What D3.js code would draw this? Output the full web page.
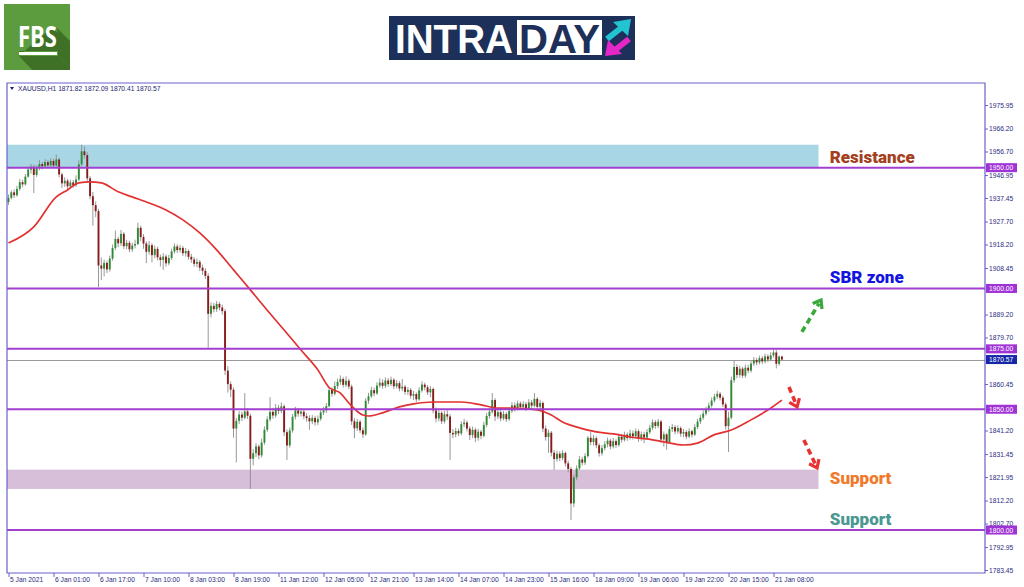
<!DOCTYPE html>
<html>
<head>
<meta charset="utf-8">
<script src="https://cdn.jsdelivr.net/npm/d3@7"></script>
<style>
  body { margin: 0; background: #fff; }
  svg { display: block; }
</style>
</head>
<body>
<div id="chart"></div>
<script>
// XAUUSD H1 candles (open = previous close)
const firstOpen = 1935.8;
const closes = [
  1937.5,1939.8,1938.6,1941.2,1944.0,1943.1,1946.3,1949.2,1950.4,1947.0,
  1949.8,1951.5,1950.6,1952.3,1951.0,1952.8,1950.9,1953.4,1947.2,1943.5,
  1944.6,1942.3,1943.9,1942.8,1945.1,1951.4,1956.8,1955.2,1945.6,1938.2,
  1934.5,1932.0,1909.5,1908.2,1910.6,1907.9,1912.4,1916.8,1920.5,1918.7,
  1922.6,1917.5,1918.9,1916.2,1917.8,1918.4,1925.1,1921.3,1918.6,1915.2,
  1917.9,1913.8,1916.4,1912.9,1911.8,1913.2,1910.4,1912.6,1915.3,1917.4,
  1915.9,1916.8,1914.6,1915.5,1913.1,1912.0,1910.2,1911.0,1908.6,1907.3,
  1905.2,1889.5,1892.8,1891.4,1893.6,1892.1,1890.6,1866.0,1860.4,1858.1,
  1842.0,1845.2,1847.8,1846.5,1849.1,1847.3,1829.5,1831.8,1834.6,1830.9,
  1836.2,1841.5,1845.8,1848.9,1847.4,1850.6,1849.3,1851.2,1840.5,1835.0,
  1841.2,1846.9,1849.5,1848.2,1849.0,1847.1,1846.3,1845.0,1846.4,1844.6,
  1846.0,1848.7,1849.5,1851.3,1857.9,1856.4,1859.6,1861.3,1862.5,1860.1,
  1861.8,1859.4,1845.0,1842.1,1844.8,1841.3,1839.6,1853.5,1855.4,1857.9,
  1856.6,1859.8,1861.0,1859.7,1861.9,1860.4,1862.2,1859.5,1860.8,1858.6,
  1859.3,1857.2,1858.0,1855.6,1856.3,1854.1,1857.8,1860.2,1859.1,1857.0,
  1858.4,1849.5,1846.2,1848.5,1845.0,1847.9,1847.0,1840.2,1839.6,1841.0,
  1840.0,1843.8,1844.5,1842.0,1839.3,1841.5,1838.2,1840.7,1839.0,1843.5,
  1847.2,1849.0,1853.8,1847.0,1848.8,1846.2,1848.0,1845.9,1849.3,1851.6,
  1850.2,1852.4,1850.9,1852.1,1850.5,1852.8,1851.5,1854.3,1851.0,1852.6,
  1842.0,1838.5,1840.3,1832.0,1829.4,1831.6,1829.8,1831.9,1827.6,1825.3,
  1811.0,1821.8,1825.5,1829.2,1827.9,1830.6,1838.2,1836.4,1838.0,1835.1,
  1831.8,1833.9,1835.5,1837.0,1834.6,1836.8,1835.2,1838.6,1837.4,1839.5,
  1838.1,1840.0,1838.8,1840.9,1837.7,1839.6,1838.3,1840.5,1842.3,1844.6,
  1843.1,1844.9,1837.5,1839.6,1836.4,1841.8,1842.6,1840.8,1842.2,1839.9,
  1840.6,1838.7,1840.9,1839.5,1842.6,1844.9,1846.5,1848.2,1849.7,1851.5,
  1853.6,1855.2,1856.4,1854.8,1852.0,1843.0,1846.5,1862.0,1867.5,1864.2,
  1866.8,1863.9,1867.2,1866.0,1868.9,1870.3,1869.4,1871.1,1869.8,1871.9,
  1870.6,1872.3,1873.5,1868.8,1871.8,1870.57
];
const highs = [
  1938.9,1940.6,1941.0,1942.5,1945.3,1945.0,1947.4,1950.5,1951.6,1951.2,
  1951.0,1953.1,1952.4,1953.5,1953.2,1953.9,1953.6,1955.5,1954.1,1948.0,
  1946.0,1945.4,1945.0,1944.9,1946.8,1953.0,1959.5,1958.9,1956.4,1946.5,
  1940.0,1936.0,1933.0,1912.8,1911.9,1911.5,1913.6,1918.2,1924.0,1921.4,
  1924.2,1923.4,1920.1,1919.8,1919.0,1920.2,1927.2,1926.0,1922.5,1919.5,
  1919.6,1918.7,1917.8,1917.3,1914.0,1914.6,1914.1,1913.9,1916.5,1918.6,
  1918.3,1918.0,1917.5,1916.8,1916.2,1914.3,1913.0,1912.4,1911.8,1909.9,
  1908.4,1906.3,1894.2,1894.0,1894.8,1894.5,1893.3,1891.5,1867.8,1861.5,
  1859.0,1846.4,1849.2,1849.0,1856.7,1850.4,1848.2,1833.5,1836.0,1835.4,
  1837.8,1842.9,1847.1,1855.0,1850.6,1852.2,1851.8,1852.8,1852.0,1841.6,
  1842.4,1848.0,1851.0,1850.6,1850.5,1849.9,1848.4,1847.5,1847.6,1847.3,
  1847.4,1849.9,1851.0,1852.6,1859.3,1859.0,1861.5,1862.7,1864.0,1863.3,
  1863.6,1862.6,1860.2,1846.3,1846.0,1845.6,1842.5,1854.6,1856.8,1859.3,
  1859.0,1861.2,1862.8,1862.4,1863.2,1862.9,1863.5,1862.9,1862.1,1861.7,
  1862.5,1860.1,1859.2,1858.8,1857.6,1857.0,1859.1,1861.6,1861.0,1860.0,
  1859.6,1859.0,1850.7,1849.8,1849.2,1849.3,1849.6,1848.0,1841.8,1842.3,
  1842.0,1845.0,1846.0,1845.4,1843.0,1842.8,1842.3,1841.9,1841.5,1844.8,
  1848.5,1850.4,1856.7,1854.6,1850.0,1849.6,1849.3,1848.8,1850.6,1852.9,
  1852.8,1853.6,1853.2,1853.4,1853.0,1854.2,1853.9,1856.7,1855.0,1853.9,
  1853.3,1843.2,1841.6,1841.0,1833.1,1832.9,1832.6,1833.0,1832.5,1828.7,
  1826.1,1823.0,1826.8,1830.6,1830.3,1831.8,1839.0,1840.5,1839.3,1838.8,
  1835.9,1835.2,1836.9,1838.3,1837.8,1838.1,1837.6,1839.9,1839.8,1840.7,
  1840.4,1841.6,1841.2,1842.0,1841.7,1840.8,1840.7,1841.8,1843.6,1845.8,
  1845.5,1846.0,1845.6,1840.8,1840.2,1843.0,1843.9,1843.5,1843.4,1842.9,
  1841.8,1841.4,1842.1,1841.6,1843.8,1846.0,1847.7,1849.5,1851.0,1852.8,
  1854.9,1856.4,1857.6,1857.2,1855.6,1852.8,1849.0,1863.5,1870.4,1868.6,
  1868.0,1867.5,1868.5,1868.4,1870.1,1871.6,1871.3,1872.2,1872.0,1873.0,
  1872.8,1873.6,1874.6,1874.5,1872.2,1872.09
];
const lows = [
  1934.6,1936.9,1937.4,1938.0,1940.4,1941.9,1942.6,1945.8,1947.5,1939.5,
  1946.2,1948.9,1949.3,1949.8,1950.1,1950.2,1949.8,1950.0,1946.0,1941.6,
  1942.1,1941.0,1941.5,1941.7,1942.0,1944.5,1950.6,1953.8,1944.2,1936.9,
  1926.0,1929.5,1900.6,1903.5,1905.0,1906.4,1907.0,1911.5,1915.9,1917.1,
  1917.6,1916.3,1916.2,1915.0,1915.1,1916.6,1917.9,1919.6,1916.4,1910.5,
  1914.0,1910.8,1912.5,1911.6,1909.1,1907.7,1909.0,1909.6,1911.8,1914.4,
  1914.7,1914.9,1913.4,1913.2,1911.9,1910.6,1909.0,1908.8,1907.2,1905.6,
  1903.9,1875.5,1888.0,1890.1,1890.3,1890.9,1889.2,1864.2,1856.9,1855.0,
  1838.2,1828.0,1843.9,1845.1,1845.8,1846.0,1817.0,1826.8,1830.2,1829.3,
  1830.0,1835.3,1840.6,1844.9,1846.1,1846.5,1848.0,1848.4,1838.9,1829.0,
  1834.1,1840.3,1845.8,1846.9,1847.0,1845.9,1844.8,1841.5,1843.8,1843.2,
  1843.5,1845.2,1847.6,1848.4,1850.8,1855.2,1855.7,1858.4,1860.1,1859.0,
  1859.2,1858.3,1843.5,1838.0,1841.0,1840.2,1838.1,1839.0,1852.2,1854.6,
  1855.3,1855.9,1858.9,1858.5,1858.8,1859.3,1859.6,1858.3,1858.6,1857.4,
  1857.5,1856.0,1855.9,1854.4,1853.8,1853.0,1853.5,1856.9,1857.8,1855.9,
  1855.0,1848.3,1844.6,1845.0,1843.9,1844.1,1845.6,1829.0,1838.0,1838.4,
  1838.9,1839.2,1842.6,1840.8,1837.2,1838.0,1836.4,1837.0,1837.6,1838.4,
  1842.6,1846.1,1848.2,1845.1,1845.9,1845.0,1845.4,1844.7,1845.1,1848.5,
  1849.0,1849.5,1849.8,1850.0,1849.3,1849.8,1850.3,1850.8,1849.8,1850.0,
  1840.5,1837.0,1832.0,1830.5,1824.9,1828.3,1828.5,1828.9,1826.3,1823.9,
  1804.2,1809.5,1820.6,1824.8,1826.7,1826.9,1829.9,1835.1,1835.0,1833.9,
  1830.4,1830.8,1832.9,1834.2,1833.4,1833.8,1834.0,1834.5,1836.2,1836.6,
  1836.9,1837.4,1837.5,1838.0,1836.5,1836.9,1836.0,1837.5,1839.7,1841.4,
  1841.9,1842.2,1836.0,1834.5,1833.2,1835.6,1840.6,1839.6,1839.9,1838.6,
  1838.4,1837.6,1838.0,1838.3,1838.9,1841.8,1843.9,1845.6,1847.4,1848.9,
  1850.7,1852.8,1854.3,1853.6,1850.9,1841.6,1832.3,1845.8,1860.9,1862.8,
  1863.1,1862.9,1863.0,1864.9,1865.2,1867.9,1868.2,1868.6,1868.7,1869.0,
  1869.5,1869.9,1871.4,1866.9,1868.0,1870.41
];

// red moving average, read at some bars
const maBars   = [0, 9, 17, 21, 25, 29, 33, 39, 44, 50, 56, 62, 68, 74, 80, 86, 92, 98, 104, 110,
                  114, 118, 121, 126, 128, 133, 139, 144, 151, 161, 168, 174, 181, 188, 193, 197,
                  203, 209, 215, 221, 227, 233, 240, 245, 251, 257, 264, 270, 275];
const maValues = [1918.8, 1925.5, 1937.9, 1940.8, 1943.7, 1944.1, 1943.7, 1940.0, 1937.9, 1935.4,
                  1932.5, 1928.4, 1923.0, 1916.0, 1907.7, 1899.4, 1891.0, 1882.8, 1874.5, 1866.3,
                  1859.0, 1856.7, 1852.6, 1847.6, 1847.2, 1848.5, 1851.0, 1852.2, 1853.0, 1853.0,
                  1851.8, 1850.5, 1850.4, 1849.7, 1847.6, 1844.7, 1842.3, 1840.6, 1839.8, 1838.5,
                  1837.7, 1836.5, 1835.2, 1836.0, 1839.5, 1841.4, 1845.6, 1849.7, 1853.8];

const levels = [1950, 1900, 1875, 1850, 1800];
const lastPrice = 1870.57;
const headerText = "XAUUSD,H1  1871.82 1872.09 1870.41 1870.57";

const tickBars = [0, 16, 32, 48, 64, 80, 96, 112, 128, 144, 160, 176, 192, 208, 224, 240, 256, 272];
const xTickLabels = ["5 Jan 2021", "6 Jan 01:00", "6 Jan 17:00", "7 Jan 10:00", "8 Jan 03:00", "8 Jan 19:00",
  "11 Jan 12:00", "12 Jan 05:00", "12 Jan 21:00", "13 Jan 14:00", "14 Jan 07:00", "14 Jan 23:00",
  "15 Jan 16:00", "18 Jan 09:00", "19 Jan 06:00", "19 Jan 22:00", "20 Jan 15:00", "21 Jan 08:00"];
// ticks hidden under the price boxes are left out
const yTicks = [1975.95, 1966.20, 1956.70, 1946.95, 1937.45, 1927.70, 1918.20, 1908.45,
  1889.20, 1879.70, 1860.45, 1841.20, 1831.45, 1821.95, 1812.20, 1802.70,
  1792.95, 1783.45];

const zoneEndBar = 288;
const zones = [
  {top: 1959.5, bottom: 1950, color: "#a9d6e4"},
  {top: 1825, bottom: 1817, color: "#d7bfd9"}
];
const notes = [
  {text: "Resistance", level: 1950, color: "#a3401d"},
  {text: "SBR zone", level: 1900, color: "#1414e0"},
  {text: "Support", level: 1817, color: "#f07a2c"},
  {text: "Support", level: 1800, color: "#4b9893"}
];
const arrows = [
  {from: [282.1, 1882.0], to: [288.9, 1895.2], color: "#3aa83a"},
  {from: [277.5, 1859.2], to: [280.4, 1851.0], color: "#e83232"},
  {from: [282.8, 1837.3], to: [287.5, 1825.7], color: "#e83232"}
];

const W = 1024, H = 587;
const plot = {left: 7, top: 83, right: 985, bottom: 573};
const barStep = 2.8125;

const svg = d3.select("#chart").append("svg")
  .attr("width", W).attr("height", H)
  .style("font-family", "'Liberation Sans', Arial, sans-serif");

const x = d3.scaleLinear().domain([0, 275]).range([8.5, 8.5 + 275 * barStep]);
const y = d3.scaleLinear().domain([1783.45, 1975.95]).range([570, 105]);

// ---------- FBS logo ----------
const logo = svg.append("g");
logo.append("clipPath").attr("id", "logoClip")
  .append("rect").attr("x", 4).attr("y", 4).attr("width", 66).attr("height", 66);
logo.append("rect").attr("x", 4).attr("y", 4).attr("width", 66).attr("height", 66).attr("fill", "#5c9b3e");
logo.append("polygon").attr("clip-path", "url(#logoClip)")
  .attr("points", "52,27 58,33 58,51 19,51 19,56 58,56 80,78 40,78 19,56")
  .attr("fill", "#3e7026");
logo.append("polygon").attr("clip-path", "url(#logoClip)")
  .attr("points", "56,27 80,51 80,78 58,56 58,33")
  .attr("fill", "#3e7026");
logo.append("text").attr("x", 18).attr("y", 47)
  .attr("textLength", 39).attr("lengthAdjust", "spacingAndGlyphs")
  .attr("font-size", 28).attr("font-weight", "bold").attr("fill", "#fff")
  .style("font-family", "'Open Sans', sans-serif").text("FBS");
logo.append("rect").attr("x", 19).attr("y", 52).attr("width", 38).attr("height", 3).attr("fill", "#fff");

// ---------- INTRADAY banner ----------
const ban = svg.append("g");
ban.append("rect").attr("x", 389).attr("y", 16).attr("width", 246).attr("height", 44).attr("fill", "#1c3059");
ban.append("rect").attr("x", 517).attr("y", 20).attr("width", 85).attr("height", 35).attr("fill", "#fff");
ban.append("text").attr("x", 395).attr("y", 53).attr("textLength", 118).attr("lengthAdjust", "spacingAndGlyphs")
  .attr("font-size", 41).attr("font-weight", "bold").attr("fill", "#fff").text("INTRA");
ban.append("text").attr("x", 519).attr("y", 53).attr("textLength", 81).attr("lengthAdjust", "spacingAndGlyphs")
  .attr("font-size", 41).attr("font-weight", "bold").attr("fill", "#1c3059").text("DAY");
ban.append("line").attr("x1", 607).attr("y1", 39).attr("x2", 621).attr("y2", 28)
  .attr("stroke", "#22c4d2").attr("stroke-width", 6);
ban.append("polygon").attr("points", "613,22 631,19 628,36").attr("fill", "#22c4d2");
ban.append("line").attr("x1", 629).attr("y1", 39).attr("x2", 615).attr("y2", 50)
  .attr("stroke", "#e527c8").attr("stroke-width", 6);
ban.append("polygon").attr("points", "608,40 605,56 622,54").attr("fill", "#e527c8");

// ---------- chart ----------
svg.append("clipPath").attr("id", "plotClip").append("rect")
  .attr("x", plot.left).attr("y", plot.top)
  .attr("width", plot.right - plot.left).attr("height", plot.bottom - plot.top);
const g = svg.append("g").attr("clip-path", "url(#plotClip)");

g.selectAll("rect.zone").data(zones).join("rect").attr("class", "zone")
  .attr("x", plot.left).attr("width", x(zoneEndBar) - plot.left)
  .attr("y", d => y(d.top)).attr("height", d => y(d.bottom) - y(d.top))
  .attr("fill", d => d.color);

// current price line
g.append("line").attr("x1", plot.left).attr("x2", plot.right)
  .attr("y1", Math.round(y(lastPrice)) + 0.5).attr("y2", Math.round(y(lastPrice)) + 0.5)
  .attr("stroke", "#9a9a9a").attr("stroke-width", 1);

const candles = closes.map((c, i) => ({i, o: i ? closes[i - 1] : firstOpen, h: highs[i], l: lows[i], c}));

g.selectAll("line.wick").data(candles).join("line").attr("class", "wick")
  .attr("x1", d => x(d.i)).attr("x2", d => x(d.i))
  .attr("y1", d => y(d.h)).attr("y2", d => y(d.l))
  .attr("stroke", "#8c8c8c").attr("stroke-width", 0.9);

g.selectAll("rect.body").data(candles).join("rect").attr("class", "body")
  .attr("x", d => x(d.i) - 0.95).attr("width", 1.9)
  .attr("y", d => y(Math.max(d.o, d.c)))
  .attr("height", d => Math.max(0.8, Math.abs(y(d.o) - y(d.c))))
  .attr("fill", d => d.c >= d.o ? "#2f8a34" : "#861c1c");

const maLine = d3.line().x((d, i) => x(maBars[i])).y(d => y(d)).curve(d3.curveMonotoneX);
g.append("path").attr("d", maLine(maValues))
  .attr("fill", "none").attr("stroke", "#e23131").attr("stroke-width", 1.7);

g.selectAll("line.level").data(levels).join("line").attr("class", "level")
  .attr("x1", plot.left).attr("x2", plot.right)
  .attr("y1", d => y(d)).attr("y2", d => y(d))
  .attr("stroke", "#a23fd0").attr("stroke-width", 2);

// annotations
g.selectAll("text.note").data(notes).join("text").attr("class", "note")
  .attr("x", x(292)).attr("y", d => y(d.level) - 5)
  .attr("font-size", 17).attr("font-weight", 900)
  .style("font-family", "Roboto, 'Open Sans', sans-serif")
  .attr("fill", d => d.color).text(d => d.text);

// dashed arrows
arrows.forEach(a => {
  const x0 = x(a.from[0]), y0 = y(a.from[1]), x1 = x(a.to[0]), y1 = y(a.to[1]);
  const ang = Math.atan2(y1 - y0, x1 - x0);
  const back = 4;
  g.append("line")
    .attr("x1", x0).attr("y1", y0)
    .attr("x2", x1 - back * Math.cos(ang)).attr("y2", y1 - back * Math.sin(ang))
    .attr("stroke", a.color).attr("stroke-width", 3.6).attr("stroke-dasharray", "6,4");
  const len = 9, spread = 0.65;
  const p1 = [x1 - len * Math.cos(ang - spread), y1 - len * Math.sin(ang - spread)];
  const p2 = [x1 - len * Math.cos(ang + spread), y1 - len * Math.sin(ang + spread)];
  g.append("polyline").attr("points", [p1, [x1, y1], p2].map(p => p.join(",")).join(" "))
    .attr("fill", "none").attr("stroke", a.color).attr("stroke-width", 3.2)
    .attr("stroke-linejoin", "miter");
});

// header
svg.append("path").attr("d", "M10,87 L14,87 L12,90 Z").attr("fill", "#1c1c70");
svg.append("text").attr("x", 18).attr("y", 91).attr("font-size", 6.7).attr("fill", "#1c1c70").text(headerText);

// frame
const axisColor = "#6a62cc";
svg.append("path")
  .attr("d", `M${plot.left},${plot.bottom} L${plot.left},${plot.top} L${plot.right},${plot.top} L${plot.right},${plot.bottom} Z`)
  .attr("fill", "none").attr("stroke", axisColor).attr("stroke-width", 1.2);

// y axis
const yAxis = svg.append("g").attr("transform", `translate(${plot.right},0)`)
  .call(d3.axisRight(y).tickValues(yTicks).tickSize(3).tickPadding(1).tickFormat(d3.format(".2f")));
yAxis.select(".domain").remove();
yAxis.selectAll("line").attr("stroke", axisColor);
yAxis.selectAll("text").attr("font-size", 6.7).attr("fill", "#2a2a80")
  .style("font-family", "'Liberation Sans', Arial, sans-serif");

// x axis
const xAxis = svg.append("g").attr("transform", `translate(0,${plot.bottom})`)
  .call(d3.axisBottom(x).tickValues(tickBars).tickSize(4).tickFormat((d, i) => xTickLabels[i]));
xAxis.select(".domain").remove();
xAxis.selectAll("line").attr("stroke", axisColor);
xAxis.selectAll("text").attr("font-size", 6.7).attr("fill", "#2a2a80")
  .attr("text-anchor", "start").attr("dx", 0).attr("dy", 0).attr("y", 9).attr("x", 1)
  .style("font-family", "'Liberation Sans', Arial, sans-serif");

// price labels on the axis
const boxes = levels.map(v => ({v, fill: "#a033d6"})).concat([{v: lastPrice, fill: "#1628a8"}]);
const pb = svg.selectAll("g.pbox").data(boxes).join("g").attr("class", "pbox")
  .attr("transform", d => `translate(${plot.right + 1},${y(d.v)})`);
pb.append("rect").attr("x", 0).attr("y", -4.5).attr("width", 31).attr("height", 9).attr("fill", d => d.fill);
pb.append("text").attr("x", 3).attr("y", 2.5).attr("font-size", 6.7).attr("fill", "#fff")
  .text(d => d3.format(".2f")(d.v));
</script>
</body>
</html>
